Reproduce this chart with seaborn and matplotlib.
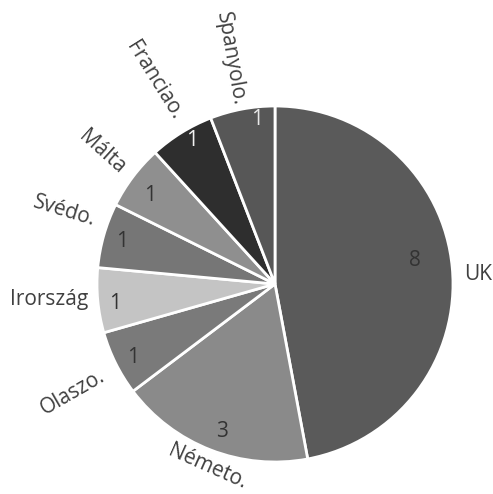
import numpy as np
import matplotlib
matplotlib.use("Agg")
import matplotlib.pyplot as plt
import seaborn as sns

# Country counts, clockwise from 12 o'clock
countries = ["UK", "Németo.", "Olaszo.", "Irország", "Svédo.", "Málta", "Franciao.", "Spanyolo."]
counts = [8, 3, 1, 1, 1, 1, 1, 1]

slice_colors = ["#5a5a5a", "#8a8a8a", "#7a7a7a", "#c4c4c4", "#767676", "#8f8f8f", "#2e2e2e", "#575757"]
value_colors = ["#333333", "#333333", "#333333", "#333333", "#333333", "#333333", "#f2f2f2", "#e8e8e8"]

# label placement: radial distance, angular shift (deg, clockwise) and rotation
name_rotation = [0, -24, 30, 0, -17, -42, -58, -80]
name_distance = [1.14, 1.095, 1.29, 1.27, 1.25, 1.22, 1.33, 1.29]
name_shift = [2.5, -0.8, -1.6, 1.3, 3.2, 0.2, 1.0, -0.7]
value_distance = [0.80, 0.88, 0.90, 0.905, 0.89, 0.86, 0.93, 0.93]
value_shift = [-4.4, -1.5, -1.0, -1.8, -0.5, -1.6, 1.8, 4.3]

sns.set_theme(style="white")
plt.rcParams["font.family"] = ["Open Sans", "DejaVu Sans"]

W, H = 493, 494
fig = plt.figure(figsize=(W / 100, H / 100), dpi=100)
cx, cy, r = 275, 284, 178
ax = fig.add_axes([(cx - r) / W, (H - cy - r) / H, 2 * r / W, 2 * r / H])

wedges, _ = ax.pie(
    counts,
    colors=slice_colors,
    startangle=90,
    counterclock=False,
    radius=1,
    wedgeprops=dict(edgecolor="white", linewidth=2.0),
)
ax.set_xlim(-1, 1)
ax.set_ylim(-1, 1)
ax.axis("off")

for i, w in enumerate(wedges):
    mid = (w.theta1 + w.theta2) / 2
    a = np.deg2rad(mid - value_shift[i])
    ax.text(value_distance[i] * np.cos(a), value_distance[i] * np.sin(a), str(counts[i]),
            ha="center", va="center", fontsize=15, color=value_colors[i])
    b = np.deg2rad(mid - name_shift[i])
    ax.text(name_distance[i] * np.cos(b), name_distance[i] * np.sin(b), countries[i],
            ha="center", va="center", fontsize=15, color="#404040",
            rotation=name_rotation[i], rotation_mode="anchor", clip_on=False)

fig.savefig("out.png", dpi=100, facecolor="white")
